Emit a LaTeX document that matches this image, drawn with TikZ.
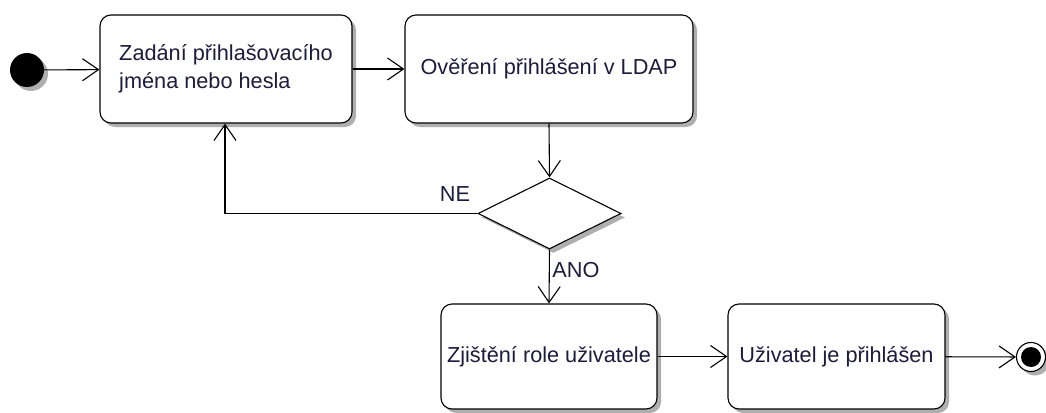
\documentclass[tikz,border=0pt]{standalone}
\usepackage{fontspec}
\setmainfont{Liberation Sans}
\usetikzlibrary{arrows.meta,shapes.geometric,shadows}
\definecolor{txt}{RGB}{28,28,60}
\definecolor{shd}{RGB}{175,175,175}
\begin{document}
\begin{tikzpicture}[x=1pt,y=-1pt,
  every node/.style={font=\fontsize{21.7}{28}\selectfont, text=txt},
  shadowed/.style={drop shadow={shadow xshift=4pt,shadow yshift=-4pt,fill=shd,opacity=1}},
  act/.style={draw,line width=1.1pt,rounded corners=11pt,fill=white,shadowed,inner sep=0pt},
  dec/.style={draw,line width=1.1pt,diamond,aspect=2,fill=white,shadowed,inner sep=0pt,minimum width=143pt,minimum height=71pt},
  flow/.style={line width=1.1pt,-{Straight Barb[length=16pt,width=22pt]}},
  lbl/.style={inner sep=0pt}
]
\useasboundingbox (0,0) rectangle (1046,412);
\node[circle,fill=black,minimum size=34pt,inner sep=0pt,shadowed] (start) at (27,70) {};
\node[act,minimum width=252pt,minimum height=108pt,align=left] (b1) at (226,69) {Zadání přihlašovacího\\jména nebo hesla};
\node[act,minimum width=288pt,minimum height=108pt] (b2) at (549,69) {Ověření přihlášení v LDAP};
\node[dec] (d) at (549.5,213.5) {};
\node[act,minimum width=216pt,minimum height=105pt] (b3) at (549,356.5) {Zjištění role uživatele};
\node[act,minimum width=217pt,minimum height=105pt] (b4) at (836.5,356.5) {Uživatel je přihlášen};
\node[circle,draw,line width=1.1pt,fill=white,minimum size=29pt,inner sep=0pt,shadowed] (end) at (1031,357) {};
\node[circle,fill=black,minimum size=20pt,inner sep=0pt] (endin) at (end.center) {};
\coordinate (corner) at (225,213.5);
\draw[flow] (start) -- (b1);
\draw[flow] (b1.east |- b2.west) -- (b2.west);
\draw[flow] (b2.south) -- (d.north);
\draw[flow] (d.west) -- (corner) -- (b1.south -| corner);
\draw[flow] (d.south) -- (b3.north);
\draw[flow] (b3) -- (b4);
\draw[flow] (b4) -- (end);
\node[lbl] (ne) at (455,194) {NE};
\node[lbl] (ano) at (576,270) {ANO};
\end{tikzpicture}
\end{document}
